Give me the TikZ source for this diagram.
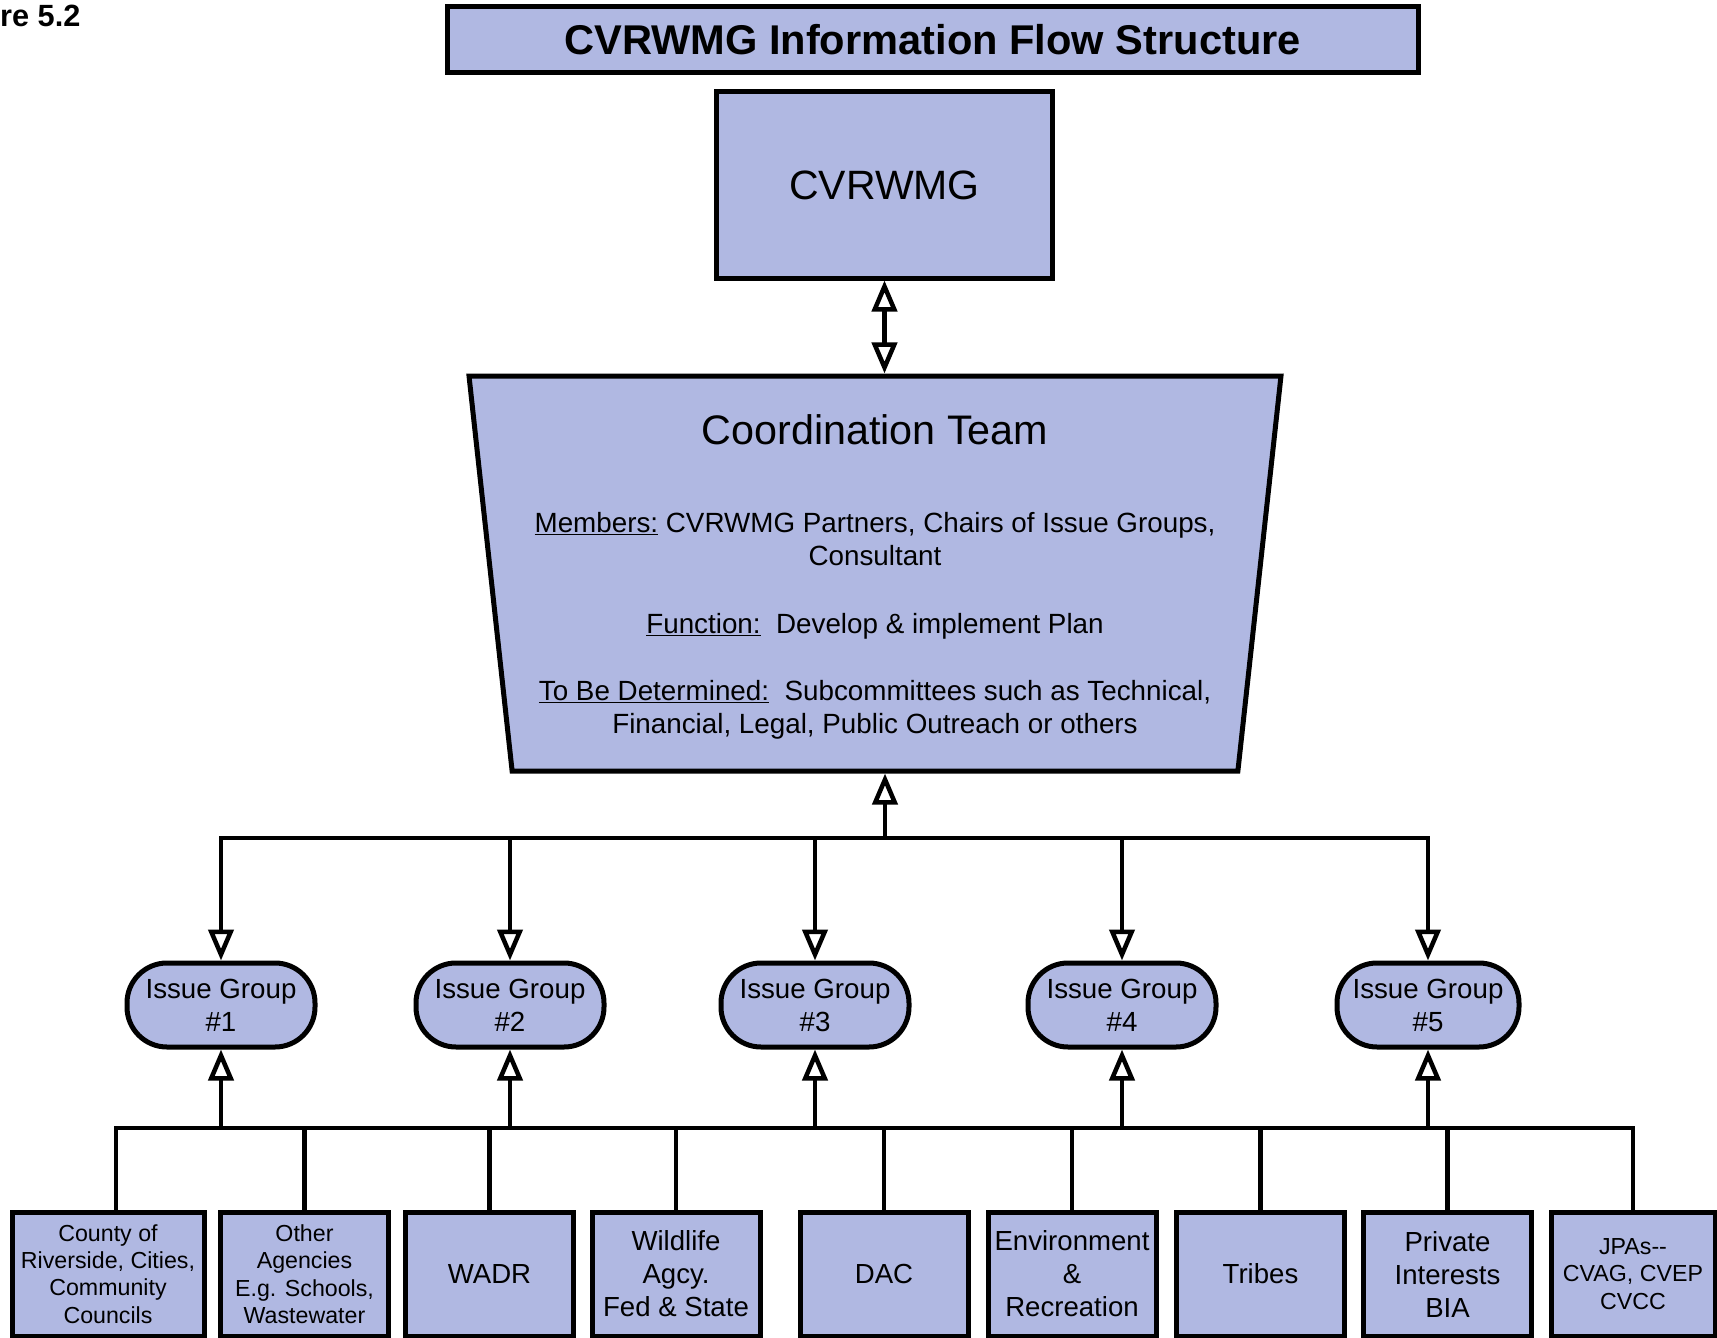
\documentclass[tikz,border=0pt]{standalone}
\usepackage{fontspec}
\setmainfont{Liberation Sans}
\usetikzlibrary{arrows.meta, shapes.geometric}
\definecolor{cvblue}{RGB}{176,184,226}

\begin{document}
\begin{tikzpicture}[x=1pt,y=-1pt]
							\tikzstyle{box} = [rectangle,fill=cvblue,draw=black,line width=5pt,inner sep=0pt]
							\tikzstyle{issue} = [rectangle,rounded corners=40pt,fill=cvblue,draw=black,line width=5pt,minimum width=188pt,minimum height=84pt,align=center,inner sep=0pt,font=\fontsize{27.7}{33}\selectfont]
							\tikzstyle{member} = [box,minimum width=168pt,minimum height=124pt,align=center]
							\tikzstyle{small} = [font=\fontsize{23.2}{27.4}\selectfont]
							\tikzstyle{large} = [font=\fontsize{27.6}{33}\selectfont]
							\tikzstyle{ctext} = [align=center,inner sep=0pt,font=\fontsize{27.8}{33}\selectfont]
							\tikzstyle{edge} = [-,draw=black,line width=4.5pt,line cap=rect]
							\tikzstyle{edge2} = [-{Triangle[open,length=31pt,width=25pt]},draw=black,line width=4.5pt]
							\tikzstyle{edge3} = [{Triangle[open,length=31pt,width=25pt]}-{Triangle[open,length=31pt,width=25pt]},draw=black,line width=4.5pt]
							\useasboundingbox (0,0) rectangle (1717,1338);
							\node[anchor=base west,inner sep=0pt,font=\bfseries\fontsize{30.7}{36}\selectfont] (fig) at (0,27) {re 5.2};
							\node[box,minimum width=971pt,minimum height=66pt,font=\bfseries\fontsize{41.6}{48}\selectfont] (title) at (932.5,40) {CVRWMG Information Flow Structure};
							\node[box,minimum width=336pt,minimum height=186pt,font=\fontsize{41}{48}\selectfont] (cvr) at (884.5,185) {CVRWMG};
							\node[trapezium,trapezium left angle=93.4,trapezium right angle=93.4,trapezium stretches=true,minimum width=812pt,minimum height=395pt,fill=cvblue,draw=black,line width=5pt,inner sep=2pt] (ct) at (875,573.5) {};
							\node[inner sep=0pt,font=\fontsize{41.3}{48}\selectfont] (cttitle) at (875,430) {Coordination Team};
							\node[ctext] (ctmem) at (875,539.5) {\underline{Members:} CVRWMG Partners, Chairs of Issue Groups,\\Consultant};
							\node[ctext] (ctfun) at (875,626) {\underline{Function:}\ \ Develop \& implement Plan};
							\node[ctext] (cttbd) at (875,709.5) {\underline{To Be Determined:}\ \ Subcommittees such as Technical,\\Financial, Legal, Public Outreach or others};
							
							\node[issue] (ig1) at (221,1005) {Issue Group\\\#1};
							\node[issue] (ig2) at (510,1005) {Issue Group\\\#2};
							\node[issue] (ig3) at (815,1005) {Issue Group\\\#3};
							\node[issue] (ig4) at (1122,1005) {Issue Group\\\#4};
							\node[issue,minimum width=182pt] (ig5) at (1428,1005) {Issue Group\\\#5};
							
							\node[member,small,minimum width=192pt] (b1) at (108,1274) {County of\\Riverside, Cities,\\Community\\Councils};
							\node[member,small] (b2) at (304.5,1274) {Other\\Agencies\\E.g. Schools,\\Wastewater};
							\node[member,large] (b3) at (489.5,1274) {WADR};
							\node[member,large] (b4) at (676,1274) {Wildlife\\Agcy.\\Fed \& State};
							\node[member,large] (b5) at (884,1274) {DAC};
							\node[member,large] (b6) at (1072,1274) {Environment\\\&\\Recreation};
							\node[member,large] (b7) at (1260.5,1274) {Tribes};
							\node[member,large] (b8) at (1447.5,1274) {Private\\Interests\\BIA};
							\node[member,small,minimum width=164pt] (b9) at (1633,1274) {JPAs-{}-\\CVAG, CVEP\\CVCC};
							
							\coordinate (ub) at (885,838);
							\coordinate (lb) at (885,1128);
							
							\draw[edge3] (cvr.south) -- (cvr.south |- ct.north);
							\draw[edge2] (ub) -- (ub |- ct.south);
							\draw[edge] (ub -| ig1) -- (ub -| ig5);
							\draw[edge2] (ub -| ig1) -- (ig1.north);
							\draw[edge2] (ub -| ig2) -- (ig2.north);
							\draw[edge2] (ub -| ig3) -- (ig3.north);
							\draw[edge2] (ub -| ig4) -- (ig4.north);
							\draw[edge2] (ub -| ig5) -- (ig5.north);
							\draw[edge] ([xshift=8pt]b1.north |- lb) -- (lb -| b9);
							\draw[edge2] (lb -| ig1) -- (ig1.south);
							\draw[edge2] (lb -| ig2) -- (ig2.south);
							\draw[edge2] (lb -| ig3) -- (ig3.south);
							\draw[edge2] (lb -| ig4) -- (ig4.south);
							\draw[edge2] (lb -| ig5) -- (ig5.south);
							\draw[edge] ([xshift=8pt]b1.north) -- ([xshift=8pt]b1.north |- lb);
							\draw[edge] (b2.north) -- (b2.north |- lb);
							\draw[edge] (b3.north) -- (b3.north |- lb);
							\draw[edge] (b4.north) -- (b4.north |- lb);
							\draw[edge] (b5.north) -- (b5.north |- lb);
							\draw[edge] (b6.north) -- (b6.north |- lb);
							\draw[edge] (b7.north) -- (b7.north |- lb);
							\draw[edge] (b8.north) -- (b8.north |- lb);
							\draw[edge] (b9.north) -- (b9.north |- lb);
\end{tikzpicture}
\end{document}
